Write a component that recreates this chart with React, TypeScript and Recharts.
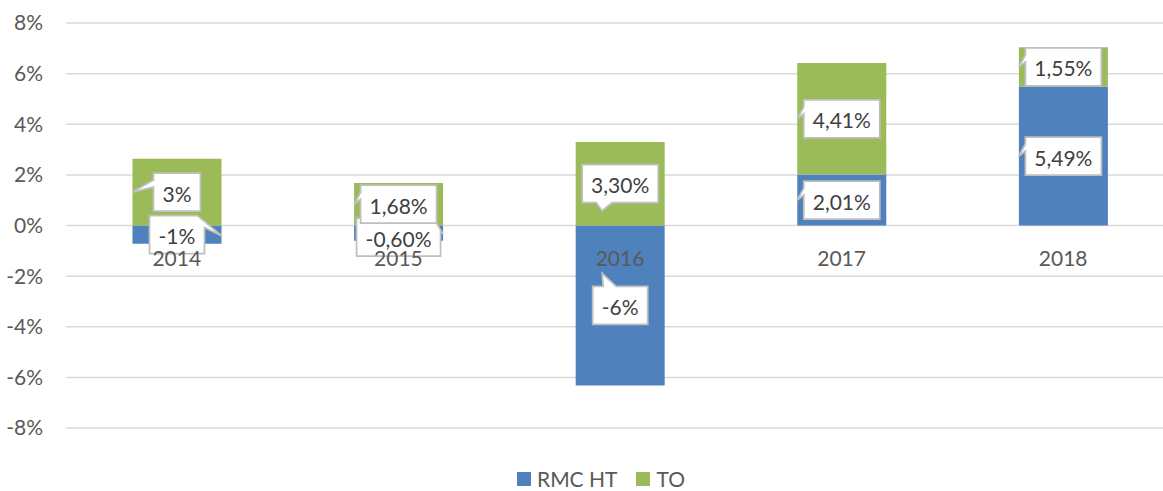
import React from 'react';
import { BarChart, Bar, XAxis, YAxis, CartesianGrid, LabelList, Legend } from 'recharts';

// Yearly contribution, in percentage points
const years = ['2014', '2015', '2016', '2017', '2018'];
const rmcHt = [-0.72, -0.6, -6.32, 2.01, 5.49];
const to = [2.64, 1.68, 3.3, 4.41, 1.55];
// number of decimals shown in each data label
const rmcDecimals = [0, 2, 0, 2, 2];
const toDecimals = [0, 2, 2, 2, 2];
const yTicks = [-8, -6, -4, -2, 0, 2, 4, 6, 8];

// callout styling: which way each tail points, and a small vertical nudge
type Tail = 'left' | 'right' | 'up' | 'down';
const rmcTail: Tail[] = ['right', 'right', 'up', 'left', 'left'];
const toTail: Tail[] = ['left', 'left', 'down', 'left', 'left'];
const rmcNudge = [0, 4, 0, 0, 0];
const toNudge = [0, 0, 0, 0, 0];

const data = years.map((year, i) => ({ year, rmc: rmcHt[i], to: to[i] }));

const FONT = 'Lato, "Open Sans", sans-serif';
const FS = 21;
const BLUE = '#4f81bd';
const GREEN = '#9bbb59';
const AXIS_TEXT = '#595959';
const LABEL_TEXT = '#404040';

const W = 1180;
const H = 491;
const MARGIN = { top: 23, right: 6, bottom: 3, left: 0 };
const X_AXIS_H = 60;
const PLOT_H = H - MARGIN.top - MARGIN.bottom - X_AXIS_H;
const Y_MIN = -8;
const Y_MAX = 8;
const ZERO_Y = MARGIN.top + PLOT_H * (Y_MAX / (Y_MAX - Y_MIN));

const fmt = (v: number, d: number) => v.toFixed(d).replace('.', ',') + '%';

let ctx: CanvasRenderingContext2D | null = null;
const measure = (s: string) => {
  if (!ctx) ctx = document.createElement('canvas').getContext('2d');
  if (!ctx) return s.length * FS * 0.55;
  ctx.font = `${FS}px Lato`;
  return ctx.measureText(s).width;
};

const calloutPath = (
  tail: Tail,
  l: number, t: number, r: number, b: number,
  cx: number, bar: { x: number; w: number; cy: number }
) => {
  switch (tail) {
    case 'left':
      return `M${l},${t} H${r} V${b} H${l} V${t + 14} L${bar.x},${bar.cy} L${l},${t + 7} Z`;
    case 'right':
      return `M${l},${t} H${r - 7} L${bar.x + bar.w},${bar.cy + 1} L${r},${t + 12} V${b} H${l} Z`;
    case 'down':
      return `M${l},${t} H${r} V${b} H${cx - 8} L${cx - 18},${b + 8} L${cx - 24},${b} H${l} Z`;
    case 'up':
    default:
      return `M${l},${t} H${cx - 17} L${cx - 18},${t - 13} L${cx - 4},${t} H${r} V${b} H${l} Z`;
  }
};

const makeCallout = (values: number[], decimals: number[], tails: Tail[], nudges: number[]) =>
  (props: any) => {
    const { x, y, width, height, index } = props;
    const bx = Number(x);
    const by = Number(y);
    const bw = Number(width);
    const bh = Number(height);
    const text = fmt(values[index], decimals[index]);
    const cx = bx + bw / 2;
    const segCy = by + bh / 2;
    const cy = segCy + nudges[index];
    const boxW = Math.round(measure(text) + 18);
    const boxH = 38;
    const l = cx - boxW / 2;
    const r = cx + boxW / 2;
    const t = cy - boxH / 2;
    const b = cy + boxH / 2;
    const d = calloutPath(tails[index], l, t, r, b, cx, { x: bx, w: bw, cy: segCy });
    return (
      <g>
        <path d={d} fill="#ffffff" stroke="#bfbfbf" strokeWidth={1.75} strokeLinejoin="miter" />
        <text
          x={cx}
          y={cy + 1}
          textAnchor="middle"
          dominantBaseline="central"
          fill={LABEL_TEXT}
          fontSize={FS}
          fontFamily={FONT}
        >
          {text}
        </text>
      </g>
    );
  };

const XTick = (props: any) => {
  const { x, payload } = props;
  return (
    <text
      x={x}
      y={ZERO_Y + 32}
      textAnchor="middle"
      dominantBaseline="central"
      fill={AXIS_TEXT}
      fontSize={FS}
      fontFamily={FONT}
    >
      {payload.value}
    </text>
  );
};

const renderLegend = (props: any) => {
  const payload = props.payload || [];
  return (
    <div
      style={{
        display: 'flex',
        justifyContent: 'center',
        alignItems: 'center',
        gap: 19,
        fontFamily: FONT,
        fontSize: FS,
        color: AXIS_TEXT,
      }}
    >
      {payload.map((item: any) => (
        <div key={item.value} style={{ display: 'flex', alignItems: 'center', gap: 6 }}>
          <span style={{ width: 14, height: 14, background: item.color, display: 'inline-block' }} />
          <span>{item.value}</span>
        </div>
      ))}
    </div>
  );
};

export default function App() {
  return (
    <div style={{ position: 'absolute', left: 0, top: 0, width: 1163, height: 491, overflow: 'hidden', background: '#fff' }}>
      <BarChart
        width={W}
        height={H}
        data={data}
        margin={MARGIN}
        stackOffset="sign"
        barCategoryGap="30%"
      >
        <CartesianGrid horizontal vertical={false} stroke="#d9d9d9" strokeWidth={1.5} />
        <YAxis
          width={66}
          domain={[Y_MIN, Y_MAX]}
          ticks={yTicks}
          interval={0}
          axisLine={false}
          tickLine={false}
          tickSize={0}
          tickMargin={23}
          tickFormatter={(v: number) => `${v}%`}
          tick={{ fill: AXIS_TEXT, fontSize: FS, fontFamily: FONT }}
        />
        <Bar dataKey="rmc" name="RMC HT" stackId="s" fill={BLUE} isAnimationActive={false}>
          <LabelList content={makeCallout(rmcHt, rmcDecimals, rmcTail, rmcNudge)} />
        </Bar>
        <Bar dataKey="to" name="TO" stackId="s" fill={GREEN} isAnimationActive={false}>
          <LabelList content={makeCallout(to, toDecimals, toTail, toNudge)} />
        </Bar>
        <XAxis
          dataKey="year"
          height={X_AXIS_H}
          axisLine={false}
          tickLine={false}
          interval={0}
          tick={<XTick />}
        />
        <Legend
          verticalAlign="middle"
          align="center"
          layout="horizontal"
          content={renderLegend}
          wrapperStyle={{ top: 466, left: 0, width: 1202, height: 28, bottom: 'auto' }}
        />
      </BarChart>
    </div>
  );
}
